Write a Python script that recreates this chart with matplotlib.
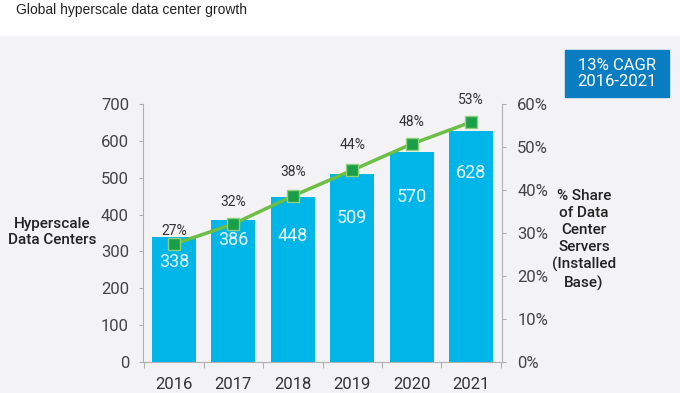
import matplotlib.pyplot as plt
from matplotlib.patches import Rectangle

years = ['2016', '2017', '2018', '2019', '2020', '2021']
centers = [338, 386, 448, 509, 570, 628]
share_labels = ['27%', '32%', '38%', '44%', '48%', '53%']
share_pos = [27.4, 32.1, 38.6, 44.6, 50.7, 55.8]

plt.rcParams['font.family'] = ['Roboto', 'DejaVu Sans']

fig = plt.figure(figsize=(6.8, 3.93), dpi=100)
fig.patches.append(Rectangle((0, 0), 1, 1 - 36/393, transform=fig.transFigure,
                             color='#f3f3f5', zorder=-10))
fig.text(16/680, 1 - 10/393, 'Global hyperscale data center growth', fontsize=10,
         family='Liberation Sans', va='center', color='#222222')

ax = fig.add_axes([143/680, 1 - 362/393, (502 - 143)/680, (362 - 104)/393])
ax.set_facecolor('none')
x = range(len(years))
ax.bar(x, centers, width=0.74, color='#00b5e8', zorder=2)
ax.set_xlim(-0.52, len(years) - 0.48)
ax.set_ylim(0, 700)
ax.set_yticks(range(0, 701, 100))
ax.set_xticks([i - 0.5 for i in range(len(years) + 1)], minor=False)
ax.set_xticklabels([])
ax.set_xticks(list(x), minor=True)
ax.set_xticklabels(years, minor=True)
ax.tick_params(axis='x', which='minor', length=0, pad=11, labelsize=12, colors='#333333')
ax.tick_params(axis='x', which='major', length=4, color='#b0b0b0')
ax.tick_params(axis='y', length=3, color='#b0b0b0', labelsize=12, labelcolor='#444444', pad=7)
for s in ['top', 'right']:
    ax.spines[s].set_visible(False)
for s in ['left', 'bottom']:
    ax.spines[s].set_color('#b0b0b0')

lab_off = [25, 20, 39, 44, 45, 42]
for i, v in enumerate(centers):
    ax.annotate(str(v), (i, v), xytext=(0, -lab_off[i]), textcoords='offset pixels',
                ha='center', va='center', color='#e8f8ff', fontsize=13, zorder=5)

ax2 = ax.twinx()
ax2.set_ylim(0, 60)
ax2.set_yticks(range(0, 61, 10))
ax2.set_yticklabels([f'{t}%' for t in range(0, 61, 10)])
ax2.tick_params(axis='y', length=3, color='#b0b0b0', labelsize=12, labelcolor='#444444', pad=8)
for s in ['top', 'left', 'bottom']:
    ax2.spines[s].set_visible(False)
ax2.spines['right'].set_color('#b0b0b0')
ax2.plot(list(x), share_pos, color='#6cbe45', lw=2.5, marker='s', ms=9,
         markerfacecolor='#1a9f48', markeredgecolor='#8fd07a', markeredgewidth=1, zorder=4)
txt_off = [13, 22, 24, 25, 22, 22]
for i, (p, l) in enumerate(zip(share_pos, share_labels)):
    ax2.annotate(l, (i, p), xytext=(0, txt_off[i]), textcoords='offset pixels',
                 ha='center', va='center', color='#333333', fontsize=10)

fig.text(52/680, 1 - 232/393, 'Hyperscale\nData Centers', ha='center', va='center',
         fontsize=11, fontweight='medium', color='#222222', linespacing=1.15)
fig.text(584/680, 1 - 240/393, '% Share\nof Data\nCenter\nServers\n(Installed\nBase)',
         ha='center', va='center', fontsize=11, fontweight='medium', color='#222222',
         linespacing=1.27)

fig.patches.append(Rectangle((565/680, 1 - 97/393), 104/680, 47/393,
                             transform=fig.transFigure, color='#0a7dc2', zorder=1))
fig.text(617/680, 1 - 73.5/393, '13% CAGR\n2016-2021', ha='center', va='center',
         fontsize=12, color='white', linespacing=1.15, zorder=2)

fig.savefig('out.png', dpi=100)
